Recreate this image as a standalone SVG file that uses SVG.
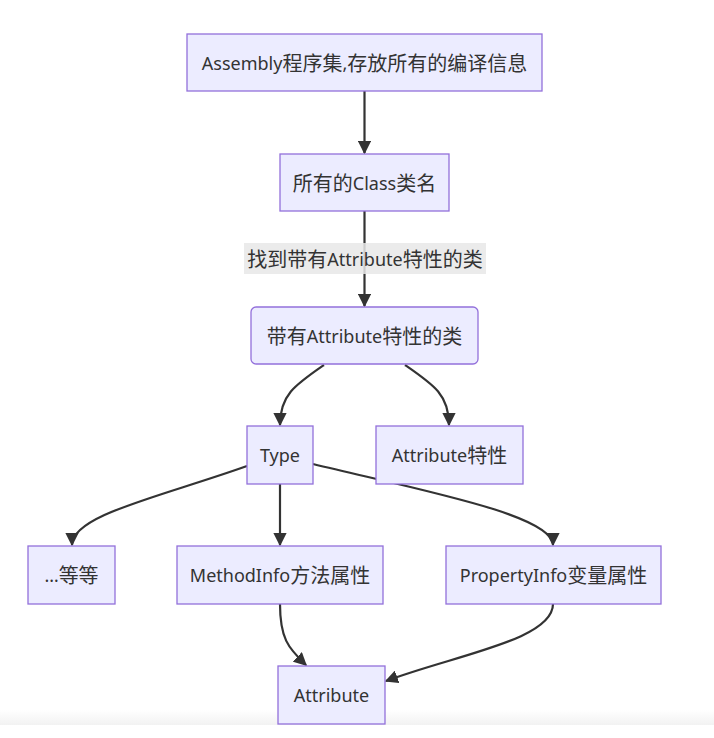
<svg xmlns="http://www.w3.org/2000/svg" width="714" height="738" viewBox="0 0 714 738">
<style>
.n{fill:#ECECFF;stroke:#9370DB;stroke-width:1.3}
.t{font-family:"Noto Sans","Noto Sans CJK SC",sans-serif;font-size:18px;fill:#333;text-anchor:middle;dominant-baseline:central}
.c{font-size:20px}
.e{fill:none;stroke:#333;stroke-width:2.2}
</style>
<defs>
<marker id="ah" viewBox="0 0 10 10" refX="9" refY="5" markerWidth="6" markerHeight="6" orient="auto" markerUnits="strokeWidth">
<path d="M0,0 L10,5 L0,10 z" fill="#333"/>
</marker>
<linearGradient id="bg" x1="0" y1="0" x2="0" y2="1">
<stop offset="0" stop-color="#ffffff"/>
<stop offset="1" stop-color="#f2f2f2"/>
</linearGradient>
</defs>
<rect x="0" y="0" width="714" height="738" fill="#fff"/>
<rect x="0" y="710" width="714" height="15" fill="url(#bg)"/>
<g id="edges">
<path class="e" d="M364.5,91 L364.5,153" marker-end="url(#ah)"/>
<path class="e" d="M364.5,211 L364.5,306" marker-end="url(#ah)"/>
<path class="e" d="M324,365 C295,385 280,395 280,425" marker-end="url(#ah)"/>
<path class="e" d="M405,365 C434,385 449,395 449,425" marker-end="url(#ah)"/>
<path class="e" d="M247,466 C160,497 72,515 72,545" marker-end="url(#ah)"/>
<path class="e" d="M280,484 L280,545" marker-end="url(#ah)"/>
<path class="e" d="M313,464 C420,490 553,515 553,545" marker-end="url(#ah)"/>
<path class="e" d="M280,604 C280,638 288,648 306,665" marker-end="url(#ah)"/>
<path class="e" d="M553,604 C553,640 455,655 386,681" marker-end="url(#ah)"/>
</g>
<g id="edge-label">
<rect x="244" y="243" width="242" height="31" fill="#e8e8e8" opacity="0.85"/>
<text class="t" x="365" y="258.5"><tspan class="c">找到带有</tspan>Attribute<tspan class="c">特性的类</tspan></text>
</g>
<g id="n1"><rect class="n" x="187" y="34" width="355" height="57"/><text class="t" x="364.5" y="62.5">Assembly<tspan class="c">程序集</tspan>,<tspan class="c">存放所有的编译信息</tspan></text></g>
<g id="n2"><rect class="n" x="280" y="154" width="169" height="57"/><text class="t" x="364.5" y="182.5"><tspan class="c">所有的</tspan>Class<tspan class="c">类名</tspan></text></g>
<g id="n3"><rect class="n" x="251" y="307" width="227" height="57" rx="5"/><text class="t" x="364.5" y="335.5"><tspan class="c">带有</tspan>Attribute<tspan class="c">特性的类</tspan></text></g>
<g id="type"><rect class="n" x="247" y="426" width="66" height="58"/><text class="t" x="280" y="455">Type</text></g>
<g id="attr-feature"><rect class="n" x="376" y="426" width="147" height="58"/><text class="t" x="449.5" y="455">Attribute<tspan class="c">特性</tspan></text></g>
<g id="etc"><rect class="n" x="28" y="546" width="87" height="58"/><text class="t" x="71.5" y="575">…<tspan class="c">等等</tspan></text></g>
<g id="method"><rect class="n" x="177" y="546" width="206" height="58"/><text class="t" x="280" y="575">MethodInfo<tspan class="c">方法属性</tspan></text></g>
<g id="property"><rect class="n" x="446" y="546" width="215" height="58"/><text class="t" x="553.5" y="575">PropertyInfo<tspan class="c">变量属性</tspan></text></g>
<g id="attribute"><rect class="n" x="278" y="666" width="107" height="58"/><text class="t" x="331.5" y="695">Attribute</text></g>
</svg>
